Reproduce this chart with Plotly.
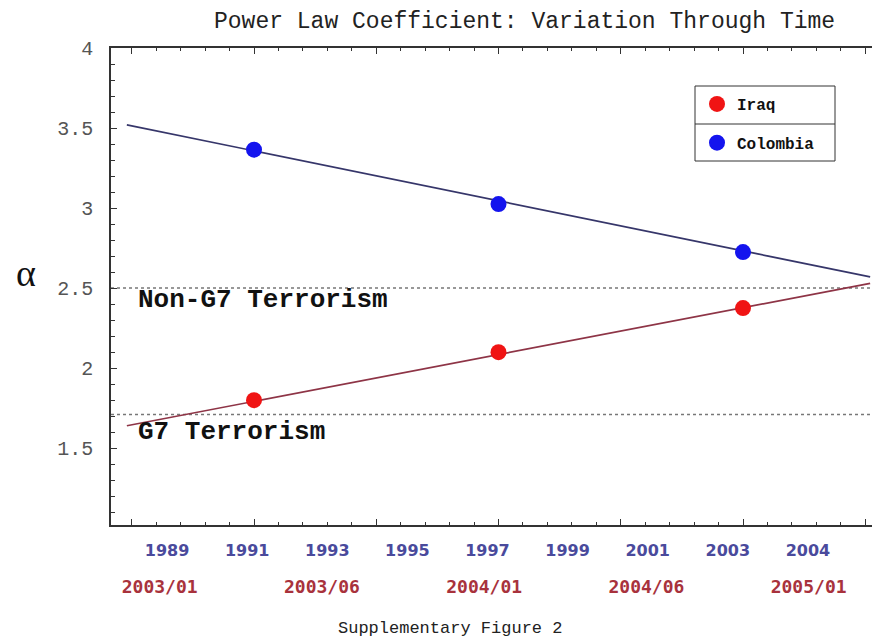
import plotly.graph_objects as go

# ---------------- data ----------------
sample_index = [1, 2, 3]                      # three sampling windows
iraq_alpha = [1.80, 2.10, 2.375]
colombia_alpha = [3.365, 3.025, 2.725]

fit_t = [0.48, 3.52]                          # extent of fitted lines
iraq_fit = [1.64, 2.53]
colombia_fit = [3.52, 2.57]

threshold_values = [2.5, 1.71]
threshold_labels = ["Non-G7 Terrorism", "G7 Terrorism"]

year_labels = ["1989", "1991", "1993", "1995", "1997", "1999", "2001", "2003", "2004"]
date_labels = ["2003/01", "2003/06", "2004/01", "2004/06", "2005/01"]

# ---------------- layout helpers ----------------
OFF = 8                      # page body margin of the html page
W, H = 880 - OFF, 642 - OFF
L, T = 111 - OFF, 48 - OFF


def px_x(px):
    return (px - OFF - L) / (W - L)


def px_y(py):
    return (H - (py - OFF)) / (H - T)


MONO = "Liberation Mono"
SERIF = "Liberation Serif"

fig = go.Figure()

# fitted lines
fig.add_trace(go.Scatter(x=fit_t, y=colombia_fit, mode="lines",
                         line=dict(color="#36366a", width=1.7),
                         showlegend=False, hoverinfo="skip"))
fig.add_trace(go.Scatter(x=fit_t, y=iraq_fit, mode="lines",
                         line=dict(color="#8e3446", width=1.7),
                         showlegend=False, hoverinfo="skip"))

# points
fig.add_trace(go.Scatter(x=sample_index, y=iraq_alpha, mode="markers", name="Iraq",
                         marker=dict(color="#f01414", size=16), legendgroup="a"))
fig.add_trace(go.Scatter(x=sample_index, y=colombia_alpha, mode="markers", name="Colombia",
                         marker=dict(color="#1414ee", size=16), legendgroup="b"))

# invisible traces to carry the label axes
fig.add_trace(go.Scatter(x=list(range(len(year_labels))), y=[None] * len(year_labels),
                         xaxis="x2", mode="markers", showlegend=False, hoverinfo="skip"))
fig.add_trace(go.Scatter(x=list(range(len(date_labels))), y=[None] * len(date_labels),
                         xaxis="x3", mode="markers", showlegend=False, hoverinfo="skip"))

shapes = []
for v in threshold_values:
    shapes.append(dict(type="line", xref="paper", yref="y", x0=0, x1=1, y0=v, y1=v,
                       line=dict(color="#777", width=1.5, dash="dot"), layer="below"))
# legend separator
shapes.append(dict(type="line", xref="paper", yref="paper",
                   x0=px_x(695), x1=px_x(835), y0=px_y(124), y1=px_y(124),
                   line=dict(color="#333", width=1)))
# legend frame
shapes.append(dict(type="rect", xref="paper", yref="paper",
                   x0=px_x(695), x1=px_x(835), y0=px_y(86), y1=px_y(161),
                   line=dict(color="#333", width=1), fillcolor="rgba(0,0,0,0)"))

annotations = [
    dict(text="Power Law Coefficient: Variation Through Time", xref="paper", yref="paper",
         x=px_x(524), y=px_y(22), showarrow=False, xanchor="center", yanchor="middle",
         font=dict(family=MONO, size=23, color="#222")),
    dict(text="α", xref="paper", yref="paper", x=px_x(26), y=px_y(273), showarrow=False,
         xanchor="center", yanchor="middle",
         font=dict(family=SERIF, size=38, color="#111")),
    dict(text="Supplementary Figure 2", xref="paper", yref="paper",
         x=px_x(450), y=px_y(628), showarrow=False, xanchor="center", yanchor="middle",
         font=dict(family=MONO, size=17, color="#222")),
]
label_y_px = [300, 432]
for lab, ypx in zip(threshold_labels, label_y_px):
    annotations.append(dict(text=lab, xref="paper", yref="paper", x=px_x(136), y=px_y(ypx),
                            xanchor="left", yanchor="middle", showarrow=False,
                            font=dict(family=MONO, size=26, color="#111", weight="bold")))

fig.update_layout(
    width=W, height=H,
    margin=dict(l=L, r=0, t=T, b=0, autoexpand=False),
    plot_bgcolor="white", paper_bgcolor="white",
    xaxis=dict(range=[1 - 143 / 244.5, 3 + 137 / 244.5], tickmode="linear", tick0=0, dtick=0.5,
               ticks="inside", ticklen=6, tickcolor="#333", showticklabels=False,
               minor=dict(ticks="inside", dtick=0.1, ticklen=3, tickcolor="#333"),
               showline=True, linecolor="#333", linewidth=1.5, mirror="ticks",
               showgrid=False, zeroline=False, automargin=False),
    xaxis2=dict(overlaying="x", anchor="free", position=px_y(539), side="bottom",
                range=[-0.7, 8.9], tickmode="array", tickvals=list(range(len(year_labels))),
                ticktext=year_labels, ticks="", showline=False, showgrid=False, zeroline=False,
                automargin=False,
                tickfont=dict(family="DejaVu Sans", size=16, color="#4a4a9c", weight="bold")),
    xaxis3=dict(overlaying="x", anchor="free", position=px_y(574), side="bottom",
                range=[-0.30, 4.44], tickmode="array", tickvals=list(range(len(date_labels))),
                ticktext=date_labels, ticks="", showline=False, showgrid=False, zeroline=False,
                automargin=False,
                tickfont=dict(family="DejaVu Sans Mono", size=18, color="#a8323c", weight="bold")),
    yaxis=dict(domain=[px_y(525), 1], range=[1.02, 4], tickmode="linear", tick0=0, dtick=0.5,
               ticks="inside", ticklen=6, tickcolor="#333",
               minor=dict(ticks="inside", dtick=0.1, ticklen=4, tickcolor="#333"),
               showline=True, linecolor="#333", linewidth=1.5, mirror=False,
               showgrid=False, zeroline=False, ticklabelstandoff=12, automargin=False,
               tickfont=dict(family=MONO, size=20, color="#555")),
    legend=dict(x=px_x(697), y=px_y(87), xanchor="left", yanchor="top",
                borderwidth=0, bgcolor="rgba(0,0,0,0)",
                traceorder="grouped", tracegroupgap=15,
                font=dict(family=MONO, size=16, color="#111", weight="bold")),
    shapes=shapes, annotations=annotations,
)

fig.write_html("out.html")
